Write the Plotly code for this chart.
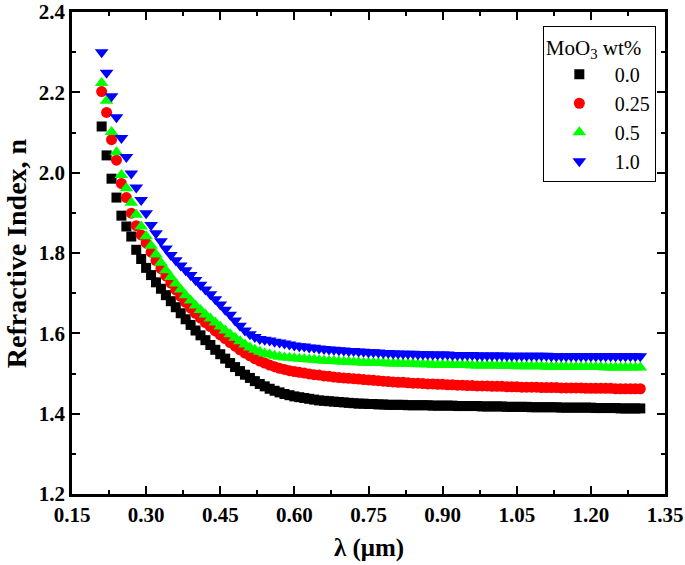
import plotly.graph_objects as go

wavelength = [0.21, 0.22, 0.23, 0.24, 0.25, 0.26, 0.27, 0.28, 0.29, 0.30,
              0.31, 0.32, 0.33, 0.34, 0.35, 0.36, 0.37, 0.38, 0.39, 0.40,
              0.41, 0.42, 0.43, 0.44, 0.45, 0.46, 0.47, 0.48, 0.49, 0.50,
              0.51, 0.52, 0.53, 0.54, 0.55, 0.56, 0.57, 0.58, 0.59, 0.60,
              0.61, 0.62, 0.63, 0.64, 0.65, 0.66, 0.67, 0.68, 0.69, 0.70,
              0.71, 0.72, 0.73, 0.74, 0.75, 0.76, 0.77, 0.78, 0.79, 0.80,
              0.81, 0.82, 0.83, 0.84, 0.85, 0.86, 0.87, 0.88, 0.89, 0.90,
              0.91, 0.92, 0.93, 0.94, 0.95, 0.96, 0.97, 0.98, 0.99, 1.00,
              1.01, 1.02, 1.03, 1.04, 1.05, 1.06, 1.07, 1.08, 1.09, 1.10,
              1.11, 1.12, 1.13, 1.14, 1.15, 1.16, 1.17, 1.18, 1.19, 1.20,
              1.21, 1.22, 1.23, 1.24, 1.25, 1.26, 1.27, 1.28, 1.29, 1.30]

n_00 = [2.115, 2.043, 1.985, 1.938, 1.893, 1.866, 1.841, 1.808, 1.785, 1.763,
        1.745, 1.727, 1.711, 1.695, 1.680, 1.665, 1.650, 1.635, 1.621, 1.607,
        1.595, 1.583, 1.571, 1.559, 1.548, 1.537, 1.526, 1.516, 1.506, 1.497,
        1.489, 1.481, 1.474, 1.468, 1.462, 1.457, 1.453, 1.449, 1.446, 1.443,
        1.441, 1.439, 1.437, 1.435, 1.433, 1.432, 1.431, 1.430, 1.429, 1.428,
        1.427, 1.426, 1.425, 1.425, 1.424, 1.424, 1.423, 1.423, 1.422, 1.422,
        1.422, 1.422, 1.421, 1.421, 1.421, 1.421, 1.421, 1.420, 1.420, 1.420,
        1.420, 1.420, 1.419, 1.419, 1.419, 1.419, 1.419, 1.418, 1.418, 1.418,
        1.418, 1.418, 1.417, 1.417, 1.417, 1.417, 1.417, 1.416, 1.416, 1.416,
        1.416, 1.416, 1.416, 1.415, 1.415, 1.415, 1.415, 1.415, 1.415, 1.415,
        1.414, 1.414, 1.414, 1.414, 1.414, 1.413, 1.413, 1.413, 1.413, 1.413]

n_025 = [2.202, 2.150, 2.082, 2.031, 1.973, 1.938, 1.899, 1.868, 1.845, 1.825,
         1.802, 1.781, 1.761, 1.743, 1.725, 1.708, 1.692, 1.677, 1.663, 1.650,
         1.638, 1.627, 1.617, 1.606, 1.596, 1.587, 1.577, 1.568, 1.559, 1.551,
         1.544, 1.537, 1.531, 1.526, 1.521, 1.517, 1.513, 1.510, 1.507, 1.505,
         1.503, 1.501, 1.499, 1.497, 1.496, 1.494, 1.493, 1.491, 1.490, 1.489,
         1.488, 1.487, 1.486, 1.485, 1.484, 1.483, 1.482, 1.481, 1.480, 1.479,
         1.478, 1.478, 1.477, 1.476, 1.476, 1.475, 1.474, 1.474, 1.473, 1.473,
         1.472, 1.472, 1.471, 1.471, 1.470, 1.470, 1.469, 1.469, 1.469, 1.468,
         1.468, 1.468, 1.467, 1.467, 1.467, 1.466, 1.466, 1.466, 1.466, 1.465,
         1.465, 1.465, 1.465, 1.464, 1.464, 1.464, 1.464, 1.464, 1.463, 1.463,
         1.463, 1.463, 1.463, 1.463, 1.462, 1.462, 1.462, 1.462, 1.462, 1.462]

n_05 = [2.223, 2.179, 2.101, 2.051, 1.994, 1.961, 1.925, 1.895, 1.866, 1.842,
        1.818, 1.796, 1.776, 1.757, 1.740, 1.724, 1.709, 1.695, 1.682, 1.669,
        1.658, 1.647, 1.637, 1.627, 1.617, 1.607, 1.598, 1.589, 1.580, 1.572,
        1.565, 1.559, 1.554, 1.550, 1.547, 1.544, 1.542, 1.540, 1.539, 1.538,
        1.537, 1.536, 1.535, 1.534, 1.533, 1.532, 1.531, 1.531, 1.530, 1.529,
        1.529, 1.528, 1.528, 1.527, 1.527, 1.527, 1.526, 1.526, 1.525, 1.525,
        1.525, 1.524, 1.524, 1.524, 1.523, 1.523, 1.523, 1.522, 1.522, 1.522,
        1.522, 1.521, 1.521, 1.521, 1.521, 1.520, 1.520, 1.520, 1.520, 1.520,
        1.519, 1.519, 1.519, 1.519, 1.518, 1.518, 1.518, 1.518, 1.518, 1.518,
        1.517, 1.517, 1.517, 1.517, 1.517, 1.516, 1.516, 1.516, 1.516, 1.516,
        1.516, 1.516, 1.515, 1.515, 1.515, 1.515, 1.515, 1.515, 1.515, 1.515]

n_10 = [2.300, 2.249, 2.190, 2.138, 2.086, 2.039, 1.998, 1.963, 1.932, 1.899,
        1.870, 1.849, 1.829, 1.811, 1.795, 1.782, 1.769, 1.757, 1.745, 1.733,
        1.721, 1.709, 1.697, 1.685, 1.672, 1.659, 1.646, 1.632, 1.619, 1.607,
        1.598, 1.591, 1.586, 1.584, 1.582, 1.579, 1.577, 1.575, 1.572, 1.570,
        1.568, 1.567, 1.565, 1.564, 1.562, 1.561, 1.560, 1.559, 1.558, 1.557,
        1.556, 1.556, 1.555, 1.554, 1.553, 1.553, 1.552, 1.551, 1.551, 1.550,
        1.550, 1.549, 1.549, 1.549, 1.548, 1.548, 1.548, 1.547, 1.547, 1.547,
        1.547, 1.546, 1.546, 1.546, 1.546, 1.546, 1.545, 1.545, 1.545, 1.545,
        1.545, 1.545, 1.544, 1.544, 1.544, 1.544, 1.544, 1.544, 1.544, 1.544,
        1.544, 1.543, 1.543, 1.543, 1.543, 1.543, 1.543, 1.543, 1.543, 1.543,
        1.543, 1.543, 1.543, 1.543, 1.543, 1.543, 1.543, 1.543, 1.543, 1.543]

series_names = ["0.0", "0.25", "0.5", "1.0"]
series_values = [n_00, n_025, n_05, n_10]
series_colors = ["#000000", "#ff0000", "#00ff00", "#0000ff"]
series_symbols = ["square", "circle", "triangle-up", "triangle-down"]
series_sizes = [10, 11, 12, 12]

x_ticks = [0.15, 0.30, 0.45, 0.60, 0.75, 0.90, 1.05, 1.20, 1.35]
y_ticks = [1.2, 1.4, 1.6, 1.8, 2.0, 2.2, 2.4]

SERIF = "Liberation Serif, Times New Roman, serif"

fig = go.Figure()
for name, vals, col, sym, sz in zip(series_names, series_values, series_colors,
                                     series_symbols, series_sizes):
    fig.add_trace(go.Scatter(
        x=wavelength, y=vals, mode="markers", name=name,
        marker=dict(symbol=sym, color=col, size=sz, line=dict(width=0)),
    ))

axis_common = dict(
    showline=True, linecolor="black", linewidth=2.5, mirror="allticks",
    ticks="inside", ticklen=8, tickwidth=2, tickcolor="black",
    showgrid=False, zeroline=False, automargin=False,
    tickfont=dict(family=SERIF, size=21, color="black", weight="bold"),
)

fig.update_xaxes(
    range=[0.15, 1.35], tickvals=x_ticks,
    ticktext=[f"{v:.2f}" for v in x_ticks],
    minor=dict(ticks="inside", dtick=0.075, ticklen=4, tickwidth=2, tickcolor="black"),
    **axis_common,
)
fig.update_yaxes(
    range=[1.2, 2.4], tickvals=y_ticks,
    ticktext=[f"{v:.1f}" for v in y_ticks],
    ticklabeloverflow="allow",
    minor=dict(ticks="inside", dtick=0.1, ticklen=4, tickwidth=2, tickcolor="black"),
    **axis_common,
)

fig.add_annotation(text="λ (μm)", xref="paper", yref="paper", x=0.5, y=-0.113,
                   xanchor="center", yanchor="middle", showarrow=False,
                   font=dict(family=SERIF, size=25, color="black", weight="bold"))
fig.add_annotation(text="Refractive Index, n", xref="paper", yref="paper", x=-0.094, y=0.50,
                   xanchor="center", yanchor="middle", showarrow=False, textangle=-90,
                   font=dict(family=SERIF, size=28, color="black", weight="bold"))

fig.update_layout(
    width=685, height=565,
    margin=dict(l=72, r=20, t=12, b=71),
    paper_bgcolor="white", plot_bgcolor="white",
    showlegend=True,
    legend=dict(
        x=0.794, y=0.97, xanchor="left", yanchor="top",
        bgcolor="white", bordercolor="black", borderwidth=1,
        font=dict(family=SERIF, size=20, color="black"),
        title=dict(text="MoO<sub>3</sub> wt%", font=dict(family=SERIF, size=21, color="black")),
        itemsizing="trace", itemwidth=61, tracegroupgap=0,
    ),
)

fig.write_html("out.html", config={"displayModeBar": False},
               post_script="document.body.style.margin='0';")
